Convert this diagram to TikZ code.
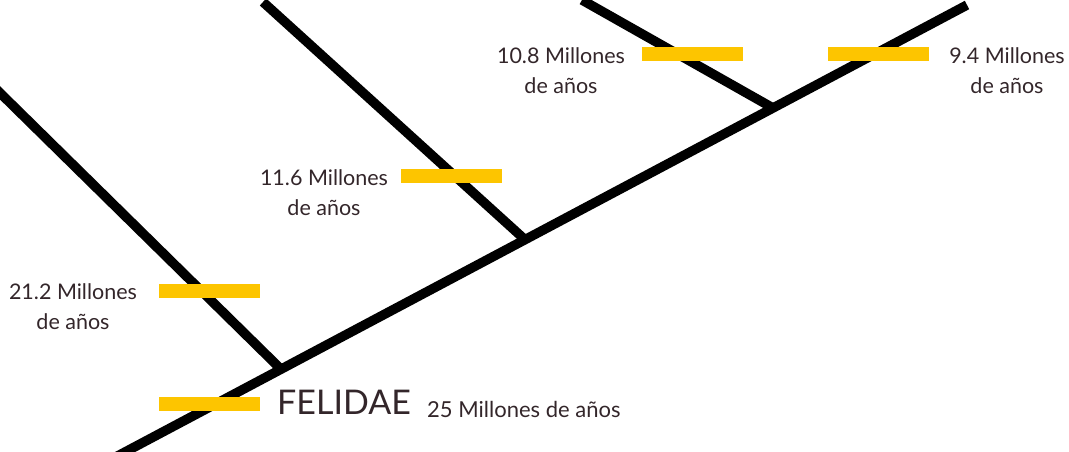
\documentclass[tikz,border=0pt]{standalone}
\usepackage{fontspec}
\usetikzlibrary{calc}
\setmainfont{Lato}
\definecolor{txt}{HTML}{33262A}
\definecolor{bar}{HTML}{FDC500}
\begin{document}
\begin{tikzpicture}[x=1pt,y=-1pt,
  branch/.style={line width=9.5pt, black},
  ybar/.style={fill=bar, draw=none, minimum width=101pt, minimum height=14pt, inner sep=0pt},
  lab/.style={text=txt, align=center, font=\fontsize{21.5}{30}\selectfont, inner sep=0pt},
  big/.style={text=txt, font=\fontsize{34}{36}\selectfont, inner sep=0pt, anchor=base west},
  small/.style={text=txt, font=\fontsize{22}{24}\selectfont, inner sep=0pt, anchor=base west}]
\useasboundingbox (0,0) rectangle (1069,451);
\begin{scope}
\clip (0,0) rectangle (1069,451);
\coordinate (root) at (110,460);
\coordinate (top) at (967,5);
\coordinate (j1) at ($(root)!{(281-110)/(967-110)}!(top)$);
\coordinate (j2) at ($(root)!{(525-110)/(967-110)}!(top)$);
\coordinate (j3) at ($(root)!{(773-110)/(967-110)}!(top)$);
\coordinate (e1) at (-6,87);
\coordinate (e2) at (263,2);
\coordinate (e3) at (582,0);
\draw[branch] (root) -- (top);
\draw[branch] (e1) -- (j1);
\draw[branch] (e2) -- (j2);
\draw[branch] (e3) -- (j3);
\end{scope}
\node[ybar] (b0) at (209.5,403.5) {};
\node[ybar] (b1) at (209.5,290.5) {};
\node[ybar] (b2) at (451.5,175.5) {};
\node[ybar] (b3) at (692.5,53.5) {};
\node[ybar] (b4) at (878.5,53.5) {};
\node[lab] (t1) at (73,307) {21.2 Millones\\de años};
\node[lab] (t2) at (324,193) {11.6 Millones\\de años};
\node[lab] (t3) at (561,70.5) {10.8 Millones\\de años};
\node[lab] (t4) at (1007,71) {9.4 Millones\\de años};
\node[big] (fel) at (277,414) {FELIDAE};
\node[small] (t0) at (427,417) {25 Millones de años};
\end{tikzpicture}
\end{document}
